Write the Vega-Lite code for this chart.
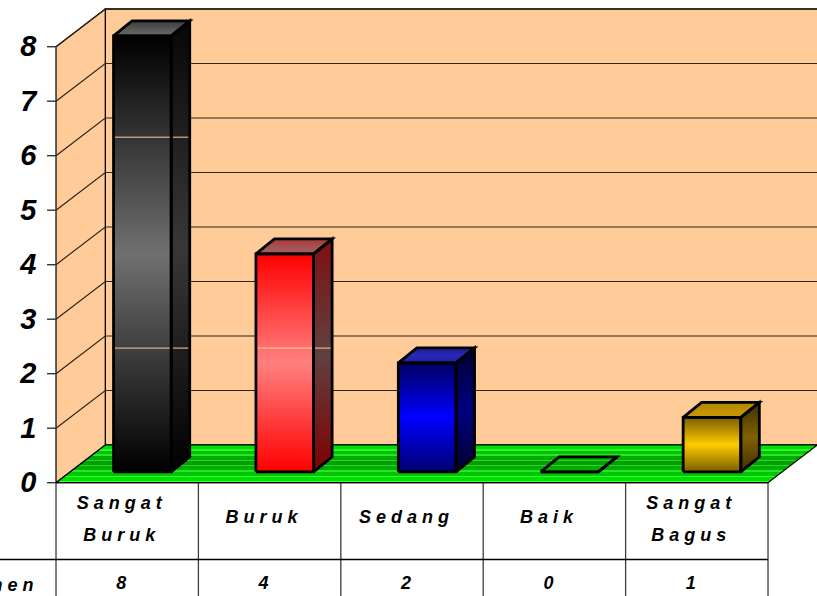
{
"$schema":"https://vega.github.io/schema/vega-lite/v6.json",
"width":817,"height":596,"padding":0,"autosize":{"type":"none"},"background":"#ffffff",
"config":{"view":{"stroke":null},"font":"Liberation Sans"},
"datasets":{
"nilai":[
{"kategori":"S a n g a t\nB u r u k","nilai":8},
{"kategori":"B u r u k","nilai":4},
{"kategori":"S e d a n g","nilai":2},
{"kategori":"B a i k","nilai":0},
{"kategori":"S a n g a t\nB a g u s","nilai":1}],
"kisi":[{"v":1},{"v":2},{"v":3},{"v":4},{"v":5},{"v":6},{"v":7},{"v":8}],
"tiang":[{"p":0},{"p":1},{"p":2},{"p":3},{"p":4},{"p":5}],
"garis":[{"i":1,"v":6.34},{"i":1,"v":2.47},{"i":2,"v":2.47}]
},
"encoding":{
"y":{"type":"quantitative","scale":{"domain":[-2.079,8.857],"nice":false,"zero":false},"title":null,
   "axis":{"values":[0,1,2,3,4,5,6,7,8],"orient":"left","domain":false,"ticks":false,"grid":false,"title":null,"labelPadding":-36,"labelFont":"Liberation Sans","labelFontSize":29,"labelFontWeight":"bold","labelFontStyle":"italic","labelColor":"#000000","labelAlign":"right","labelBaseline":"middle","labelOverlap":false,"labelFlush":false}},
"x":{"type":"quantitative","scale":{"domain":[-0.3933,5.344],"nice":false,"zero":false},"title":null,"axis":null}
},
"layer":[
{"data":{"values":[{}]},"mark":{"type":"rect","fill":"#ffcc99","stroke":"#000000","strokeWidth":1.3},
 "encoding":{"x":{"datum":0.346},"x2":{"datum":5.6},"y":{"datum":0.692},"y2":{"datum":8.692}}},
{"data":{"values":[{"b":"dinding"},{"b":"lantai"}]},
 "transform":[
  {"calculate":"[0,1,2,3,4]","as":"k"},{"flatten":["k"]},
  {"calculate":"datum.b=='dinding'?[0,0.346,0.346,0,0][datum.k]:[0,5,5.346,0.346,0][datum.k]","as":"px"},
  {"calculate":"datum.b=='dinding'?[0,0.692,8.692,8,0][datum.k]:[0,0,0.692,0.692,0][datum.k]","as":"py"}],
 "layer":[
 {"transform":[{"filter":"datum.b=='dinding'"}],
  "mark":{"type":"line","fill":"#ffcc99","stroke":"#000000","strokeWidth":1.2},
  "encoding":{"x":{"field":"px","type":"quantitative"},"y":{"field":"py","type":"quantitative"},"order":{"field":"k"}}},
 {"transform":[{"filter":"datum.b=='lantai'"}],
  "mark":{"type":"line","stroke":"#000000","strokeWidth":1.2,
   "fill":{"gradient":"linear","x1":0,"y1":0,"x2":0,"y2":1,"stops":[
    {"offset":0,"color":"#00e000"},{"offset":0.11,"color":"#00e000"},{"offset":0.11,"color":"#30f030"},{"offset":0.15,"color":"#30f030"},
    {"offset":0.15,"color":"#00c400"},{"offset":0.25,"color":"#00c400"},{"offset":0.25,"color":"#30e030"},{"offset":0.29,"color":"#30e030"},
    {"offset":0.29,"color":"#00ac00"},{"offset":0.39,"color":"#00ac00"},{"offset":0.39,"color":"#30d030"},{"offset":0.43,"color":"#30d030"},
    {"offset":0.43,"color":"#00a000"},{"offset":0.53,"color":"#00a000"},{"offset":0.53,"color":"#30d030"},{"offset":0.57,"color":"#30d030"},
    {"offset":0.57,"color":"#00b000"},{"offset":0.67,"color":"#00b000"},{"offset":0.67,"color":"#30e030"},{"offset":0.71,"color":"#30e030"},
    {"offset":0.71,"color":"#00c800"},{"offset":0.81,"color":"#00c800"},{"offset":0.81,"color":"#40f040"},{"offset":0.85,"color":"#40f040"},
    {"offset":0.85,"color":"#00e000"},{"offset":0.95,"color":"#00e000"},{"offset":0.95,"color":"#30ff30"},{"offset":1,"color":"#30ff30"}]}},
  "encoding":{"x":{"field":"px","type":"quantitative"},"y":{"field":"py","type":"quantitative"},"order":{"field":"k"}}}
 ]},
{"data":{"name":"kisi"},
 "transform":[
  {"calculate":"[0,1,2]","as":"k"},{"flatten":["k"]},
  {"calculate":"[0,0.346,5.6][datum.k]","as":"px"},
  {"calculate":"datum.v+[0,0.692,0.692][datum.k]","as":"py"}],
 "mark":{"type":"line","stroke":"#2e2418","strokeWidth":1.2},
 "encoding":{"x":{"field":"px","type":"quantitative"},"y":{"field":"py","type":"quantitative"},"detail":{"field":"v"},"order":{"field":"k"}}},
{"data":{"values":[{"v":0},{"v":1},{"v":2},{"v":3},{"v":4},{"v":5},{"v":6},{"v":7},{"v":8}]},
 "mark":{"type":"rule","stroke":"#333333","strokeWidth":1.4},
 "encoding":{"x":{"datum":-0.063},"x2":{"datum":0},"y":{"field":"v","type":"quantitative"}}},
{"data":{"name":"tiang"},
 "mark":{"type":"rule","stroke":"#3c3c3c","strokeWidth":1.3},
 "encoding":{"x":{"field":"p","type":"quantitative"},"y":{"datum":0},"y2":{"datum":-2.079}}},
{"data":{"values":[{"v":-1.409,"a":-0.3933},{"v":0,"a":0}]},
 "mark":{"type":"rule","stroke":"#000000","strokeWidth":1.3},
 "encoding":{"x":{"field":"a","type":"quantitative"},"x2":{"datum":5},"y":{"field":"v","type":"quantitative"}}},
{"data":{"name":"nilai"},
 "transform":[
  {"window":[{"op":"row_number","as":"i"}]},
  {"filter":"datum.nilai>0"},
  {"calculate":"[0,1,2]","as":"f"},{"flatten":["f"]},
  {"calculate":"[0,1,2,3,4]","as":"k"},{"flatten":["k"]},
  {"calculate":"[[0,0.405,0.405,0,0],[0.405,0.535,0.535,0.405,0.405],[0,0.405,0.535,0.13,0]][datum.f][datum.k]+datum.i-1+0.404","as":"px"},
  {"calculate":"[[0,0,datum.nilai,datum.nilai,0],[0,0.275,datum.nilai+0.275,datum.nilai,0],[datum.nilai,datum.nilai,datum.nilai+0.275,datum.nilai+0.275,datum.nilai]][datum.f][datum.k]+0.2","as":"py"},
  {"calculate":"[[['#000000','#707070','#000000'],['#060606','#383838','#000000'],['#3a3a3a','#555555','#6a6a6a']],[['#ff0000','#ff8080','#ff0000'],['#801010','#604040','#800000'],['#a83838','#a85050','#a06060']],[['#000060','#0000ff','#000070'],['#000030','#000080','#000030'],['#1c1c90','#2828b8','#2020a8']],[['#000000','#000000','#000000'],['#000000','#000000','#000000'],['#000000','#000000','#000000']],[['#7a5c00','#ffcc00','#7a5c00'],['#3f3000','#806000','#3f3000'],['#b08800','#c09000','#c89a00']]][datum.i-1][datum.f]","as":"c"},
  {"calculate":"{gradient:'linear',x1:0,y1:0,x2:0,y2:1,stops:[{offset:0,color:datum.c[0]},{offset:0.5,color:datum.c[1]},{offset:1,color:datum.c[2]}]}","as":"warna"},
  {"calculate":"datum.i*10+datum.f","as":"muka"}],
 "mark":{"type":"line","strokeWidth":0,"stroke":"transparent"},
 "encoding":{"x":{"field":"px","type":"quantitative"},"y":{"field":"py","type":"quantitative"},
  "detail":{"field":"muka"},"order":{"field":"k"},
  "fill":{"field":"warna","type":"nominal","scale":null,"legend":null}}},
{"data":{"name":"garis"},
 "transform":[{"calculate":"datum.i-1+0.404","as":"a"},{"calculate":"datum.i-1+0.939","as":"b"}],
 "mark":{"type":"rule","stroke":"#ffcc99","strokeWidth":1},
 "encoding":{"x":{"field":"a","type":"quantitative"},"x2":{"field":"b"},"y":{"field":"v","type":"quantitative"}}},
{"data":{"name":"nilai"},
 "transform":[
  {"window":[{"op":"row_number","as":"i"}]},
  {"calculate":"[0,1,2]","as":"f"},{"flatten":["f"]},
  {"calculate":"[0,1,2,3,4]","as":"k"},{"flatten":["k"]},
  {"calculate":"[[0,0.405,0.405,0,0],[0.405,0.535,0.535,0.405,0.405],[0,0.405,0.535,0.13,0]][datum.f][datum.k]+datum.i-1+0.404","as":"px"},
  {"calculate":"[[0,0,datum.nilai,datum.nilai,0],[0,0.275,datum.nilai+0.275,datum.nilai,0],[datum.nilai,datum.nilai,datum.nilai+0.275,datum.nilai+0.275,datum.nilai]][datum.f][datum.k]+0.2","as":"py"},
  {"calculate":"datum.i*10+datum.f","as":"muka"}],
 "mark":{"type":"line","stroke":"#000000","strokeWidth":2.8,"strokeJoin":"miter"},
 "encoding":{"x":{"field":"px","type":"quantitative"},"y":{"field":"py","type":"quantitative"},
  "detail":{"field":"muka"},"order":{"field":"k"}}},
{"data":{"name":"nilai"},
 "transform":[{"window":[{"op":"row_number","as":"i"}]},{"calculate":"datum.i-0.5","as":"tengah"},
  {"calculate":"indexof(datum.kategori,'\\n')>=0?-0.39:-0.65","as":"baris"}],
 "layer":[
 {"mark":{"type":"text","font":"Liberation Sans","fontSize":18,"fontWeight":"bold","fontStyle":"italic","color":"#000000","lineBreak":"\n","lineHeight":32,"dx":-8,"align":"center","baseline":"middle"},
  "encoding":{"x":{"field":"tengah","type":"quantitative"},"y":{"field":"baris","type":"quantitative"},"text":{"field":"kategori"}}},
 {"mark":{"type":"text","font":"Liberation Sans","fontSize":18,"fontWeight":"bold","fontStyle":"italic","color":"#000000","dx":-6,"align":"center","baseline":"middle"},
  "encoding":{"x":{"field":"tengah","type":"quantitative"},"y":{"datum":-1.85},"text":{"field":"nilai"}}}
 ]},
{"data":{"values":[{"t":"m e n"}]},
 "mark":{"type":"text","font":"Liberation Sans","fontSize":18,"fontWeight":"bold","fontStyle":"italic","color":"#000000","align":"right","baseline":"middle"},
 "encoding":{"x":{"datum":-0.158},"y":{"datum":-1.9},"text":{"field":"t"}}}
]
}
